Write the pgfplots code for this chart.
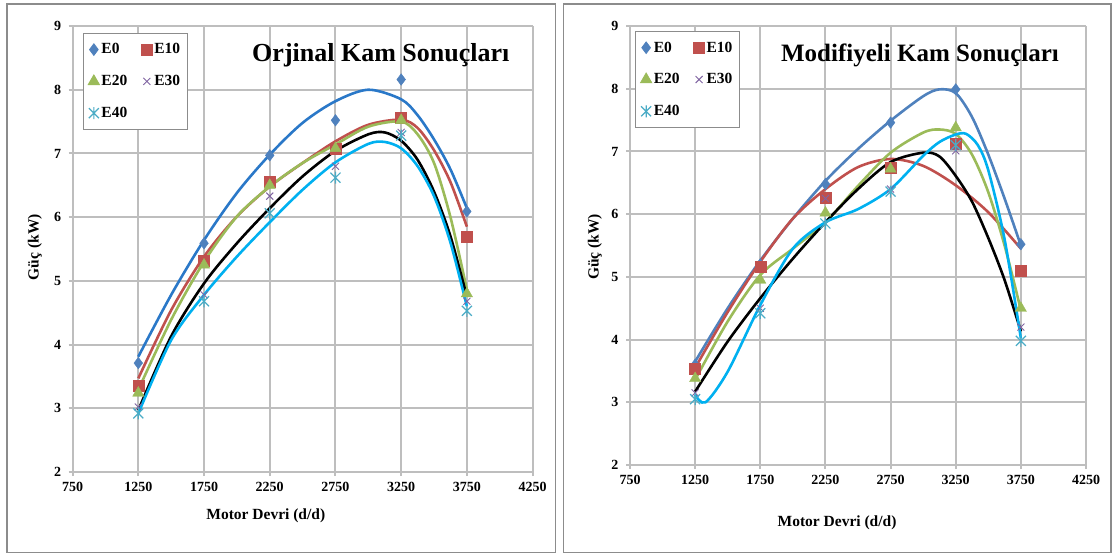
\documentclass[border=0pt]{standalone}
\usepackage{pgfplots}
\pgfplotsset{compat=1.18}
\usepackage{fontspec}
\setmainfont{Liberation Serif}
\definecolor{gridgray}{HTML}{BEBEBE}
\definecolor{framegray}{HTML}{8C8C8C}
\definecolor{cE0}{HTML}{4F81BD}
\definecolor{cE10}{HTML}{C0504D}
\definecolor{cE20}{HTML}{9BBB59}
\definecolor{cE30}{HTML}{8064A2}
\definecolor{cE40}{HTML}{4BACC6}
\definecolor{tE0L}{HTML}{2A78C8}
\definecolor{tE0R}{HTML}{4F81BD}
\definecolor{tE40}{HTML}{00B0F0}
\pgfdeclareplotmark{xstar}{%
 \pgfpathmoveto{\pgfqpoint{-\pgfplotmarksize}{-\pgfplotmarksize}}\pgfpathlineto{\pgfqpoint{\pgfplotmarksize}{\pgfplotmarksize}}%
 \pgfpathmoveto{\pgfqpoint{-\pgfplotmarksize}{\pgfplotmarksize}}\pgfpathlineto{\pgfqpoint{\pgfplotmarksize}{-\pgfplotmarksize}}%
 \pgfpathmoveto{\pgfqpoint{0pt}{-1.2\pgfplotmarksize}}\pgfpathlineto{\pgfqpoint{0pt}{1.2\pgfplotmarksize}}%
 \pgfusepathqstroke}
\pgfplotsset{
 mystyle/.style={
  scale only axis, xmin=750, xmax=4250, ymin=2, ymax=9,
  xtick={750,1250,...,4250}, ytick={2,...,9},
  axis lines*=left,
  xmajorgrids=true, ymajorgrids=true,
  major grid style={draw=gridgray, line width=2bp},
  axis line style={draw=gridgray, line width=2bp},
  tick style={draw=gridgray, line width=2bp},
  tick align=outside, major tick length=4bp,
  /pgf/number format/assume math mode=true,
  /pgf/number format/set thousands separator={},
  ticklabel style={font=\bfseries\fontsize{14bp}{16bp}\selectfont},
  xticklabel style={yshift=-3bp},
  yticklabel style={xshift=-4bp},
  label style={font=\bfseries\fontsize{15.5bp}{18bp}\selectfont},
  legend columns=2,
  legend cell align=left,
  legend style={draw=framegray, line width=1bp, font=\bfseries\fontsize{15.5bp}{17bp}\selectfont,
   row sep=16bp, inner xsep=5bp, inner ysep=8.5bp, /tikz/every even column/.append style={column sep=12bp}},
  legend image post style={line width=0.8bp},
  mk0/.style={only marks, mark=diamond*, mark size=5.8bp, color=cE0},
  mk10/.style={only marks, mark=square*, mark size=5.5bp, color=cE10},
  mk20/.style={only marks, mark=triangle*, mark size=6.5bp, color=cE20},
  mk30/.style={only marks, mark=x, mark size=5bp, color=cE30, mark options={line width=0.9bp}},
  mk40/.style={only marks, mark=xstar, mark size=5bp, color=cE40, mark options={line width=1.2bp}},
  tl/.style={smooth, no marks, line width=2.6bp, forget plot},
 }
}
\begin{document}
\begin{tikzpicture}
\path[use as bounding box] (0,0) rectangle (1113bp,-555bp);
\draw[framegray, line width=1.5bp] (7bp,-4bp) rectangle (555.5bp,-552.5bp);
\draw[framegray, line width=1.5bp] (563.5bp,-4bp) rectangle (1111bp,-552.5bp);

% Left: Orjinal
\begin{axis}[mystyle, at={(72.6bp,-472bp)}, anchor=south west, width=460bp, height=446bp,
  xlabel={Motor Devri (d/d)}, ylabel={Güç (kW)},
  xlabel style={at={(axis description cs:0.42,0)}, anchor=center, yshift=-44bp},
  ylabel style={at={(axis description cs:-0.0817,0.504)}, anchor=center},
  legend style={at={(0.022,0.985)}, anchor=north west}]
\addplot[mk0] coordinates {(1250,3.71)(1750,5.59)(2250,6.97)(2750,7.52)(3250,8.16)(3750,6.09)};
\addlegendentry{E0}
\addplot[mk10] coordinates {(1250,3.36)(1750,5.32)(2250,6.55)(2750,7.08)(3250,7.56)(3750,5.70)};
\addlegendentry{E10}
\addplot[mk20] coordinates {(1250,3.24)(1750,5.25)(2250,6.50)(2750,7.08)(3250,7.52)(3750,4.80)};
\addlegendentry{E20}
\addplot[mk30] coordinates {(1250,3.02)(1750,4.78)(2250,6.33)(2750,6.80)(3250,7.33)(3750,4.68)};
\addlegendentry{E30}
\addplot[mk40] coordinates {(1250,2.92)(1750,4.68)(2250,6.06)(2750,6.62)(3250,7.28)(3750,4.53)};
\addlegendentry{E40}
\addplot[tl, color=tE0L] coordinates {(1250,3.81)(1500,4.78)(1750,5.64)(2000,6.38)(2250,6.98)(2500,7.48)(2750,7.82)(3000,8.0)(3250,7.85)(3375,7.6)(3500,7.22)(3625,6.75)(3750,6.14)};
\addplot[tl, color=cE10] coordinates {(1250,3.47)(1500,4.54)(1750,5.38)(2000,6.01)(2250,6.48)(2500,6.85)(2750,7.19)(3000,7.45)(3250,7.53)(3375,7.4)(3500,7.05)(3625,6.55)(3750,5.85)};
\addplot[tl, color=cE20] coordinates {(1250,3.29)(1500,4.39)(1750,5.30)(2000,6.01)(2250,6.48)(2500,6.85)(2750,7.14)(3000,7.42)(3250,7.50)(3375,7.3)(3500,6.85)(3625,6.0)(3750,4.86)};
\addplot[tl, color=black] coordinates {(1250,2.97)(1500,4.13)(1750,4.96)(2000,5.59)(2250,6.14)(2500,6.64)(2750,7.04)(3000,7.30)(3125,7.33)(3250,7.20)(3375,6.9)(3500,6.40)(3625,5.7)(3750,4.75)};
\addplot[tl, color=tE40] coordinates {(1250,2.92)(1500,4.07)(1750,4.78)(2000,5.38)(2250,5.92)(2500,6.43)(2750,6.86)(3000,7.15)(3125,7.18)(3250,7.08)(3375,6.8)(3500,6.33)(3625,5.6)(3750,4.60)};
\node[font=\bfseries\fontsize{26bp}{28bp}\selectfont] at (rel axis cs:0.670,0.935) {Orjinal Kam Sonuçları};
\end{axis}

% Right: Modifiyeli
\begin{axis}[mystyle, at={(630bp,-465bp)}, anchor=south west, width=456bp, height=439bp,
  xlabel={Motor Devri (d/d)}, ylabel={Güç (kW)},
  xlabel style={at={(axis description cs:0.454,0)}, anchor=center, yshift=-58bp},
  ylabel style={at={(axis description cs:-0.0768,0.497)}, anchor=center},
  legend style={at={(0.011,0.989)}, anchor=north west}]
\addplot[mk0] coordinates {(1250,3.60)(1750,5.20)(2250,6.48)(2750,7.46)(3250,7.99)(3750,5.52)};
\addlegendentry{E0}
\addplot[mk10] coordinates {(1250,3.53)(1750,5.16)(2250,6.26)(2750,6.74)(3250,7.13)(3750,5.10)};
\addlegendentry{E10}
\addplot[mk20] coordinates {(1250,3.38)(1750,4.95)(2250,6.02)(2750,6.72)(3250,7.38)(3750,4.50)};
\addlegendentry{E20}
\addplot[mk30] coordinates {(1250,3.15)(1750,4.50)(2250,6.25)(2750,6.40)(3250,7.01)(3750,4.20)};
\addlegendentry{E30}
\addplot[mk40] coordinates {(1250,3.05)(1750,4.42)(2250,5.85)(2750,6.36)(3250,7.10)(3750,3.98)};
\addlegendentry{E40}
\addplot[tl, color=tE0R] coordinates {(1250,3.65)(1500,4.50)(1750,5.26)(2000,5.93)(2250,6.53)(2500,7.04)(2750,7.49)(3000,7.88)(3125,7.99)(3250,7.93)(3375,7.55)(3500,6.95)(3625,6.25)(3750,5.50)};
\addplot[tl, color=cE10] coordinates {(1250,3.55)(1500,4.44)(1750,5.24)(2000,5.93)(2250,6.40)(2500,6.75)(2750,6.88)(3000,6.77)(3250,6.46)(3500,6.03)(3750,5.45)};
\addplot[tl, color=cE20] coordinates {(1250,3.36)(1500,4.29)(1750,5.03)(2000,5.45)(2250,5.87)(2500,6.45)(2750,6.98)(3000,7.30)(3125,7.35)(3250,7.28)(3375,6.95)(3500,6.35)(3625,5.5)(3750,4.47)};
\addplot[tl, color=black] coordinates {(1250,3.17)(1500,3.97)(1750,4.66)(2000,5.29)(2250,5.87)(2500,6.40)(2750,6.83)(3000,6.98)(3125,6.92)(3250,6.61)(3375,6.2)(3500,5.62)(3625,4.95)(3750,4.13)};
\addplot[tl, color=tE40] coordinates {(1250,3.12)(1330,3.0)(1500,3.49)(1750,4.55)(2000,5.45)(2250,5.87)(2500,6.08)(2750,6.40)(3000,6.93)(3125,7.15)(3250,7.27)(3330,7.28)(3420,7.1)(3500,6.7)(3625,5.6)(3750,4.02)};
\node[font=\bfseries\fontsize{25bp}{28bp}\selectfont] at (rel axis cs:0.636,0.932) {Modifiyeli Kam Sonuçları};
\end{axis}
\end{tikzpicture}
\end{document}
